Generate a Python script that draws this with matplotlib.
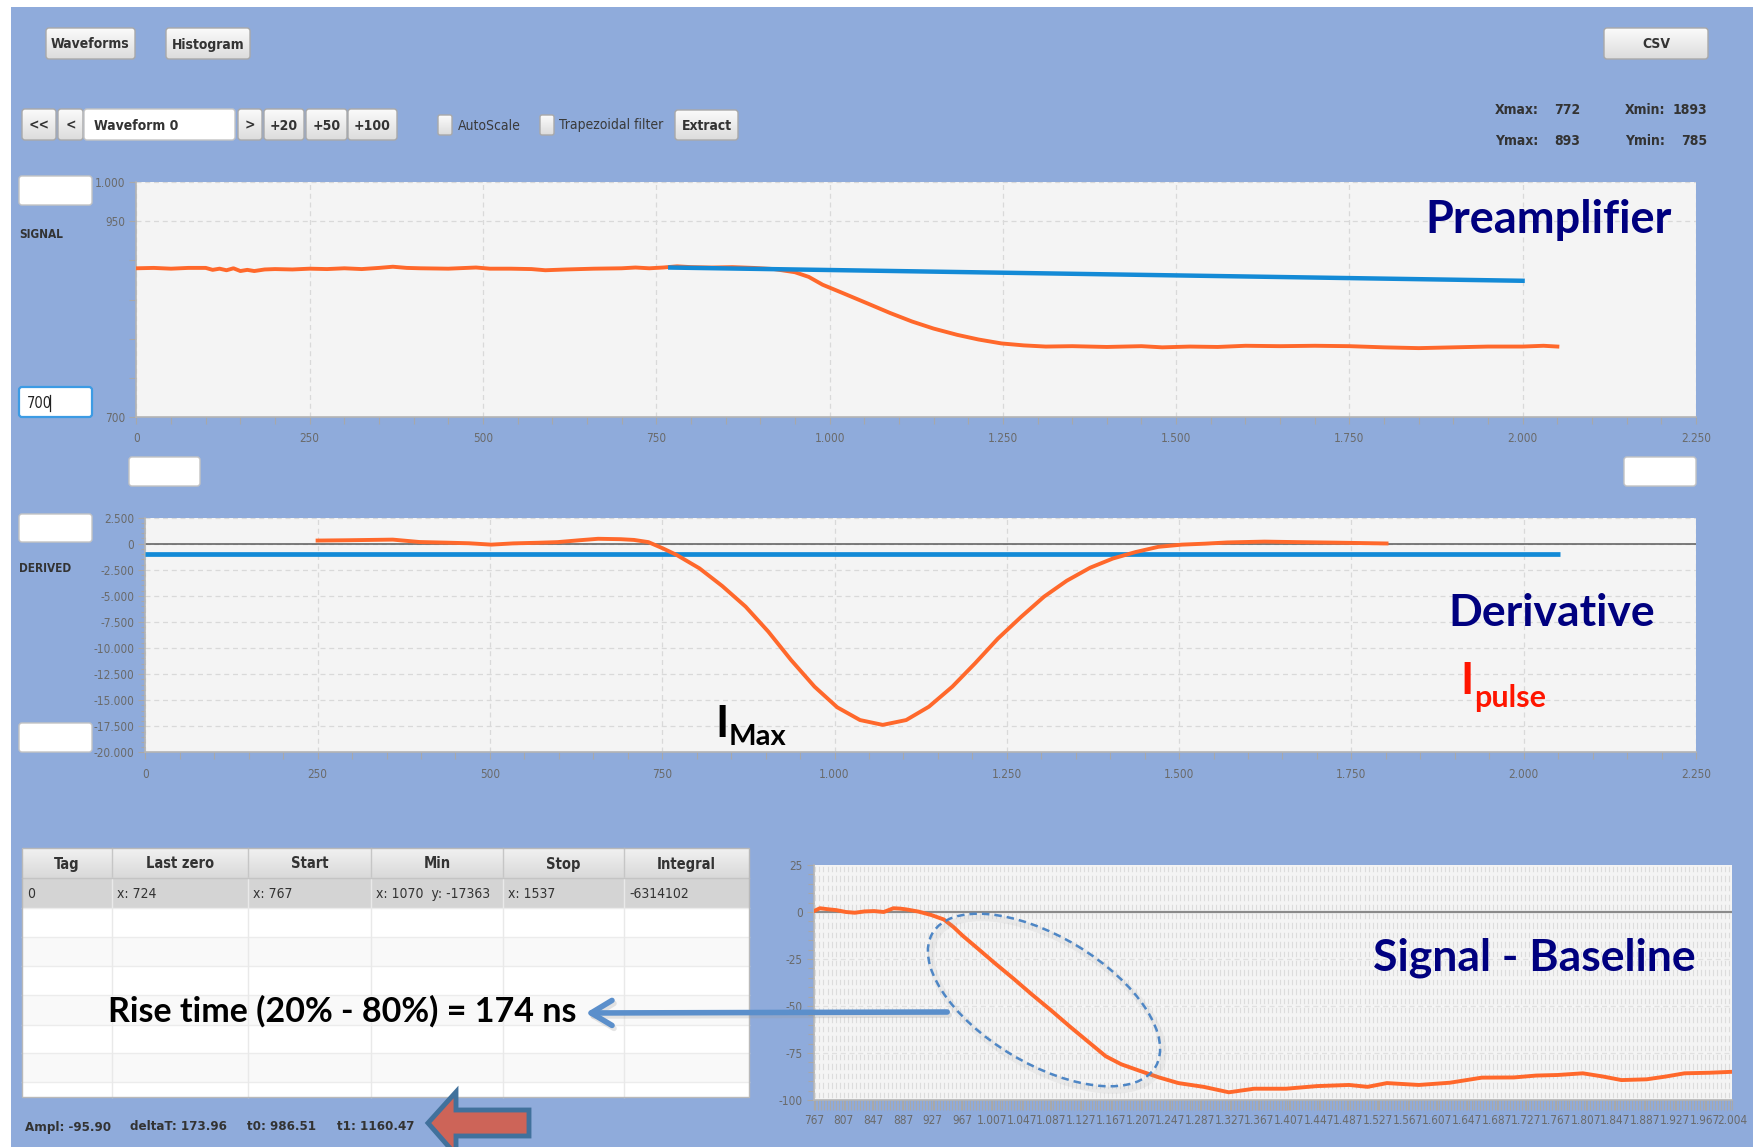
import numpy as np
import matplotlib
matplotlib.use("Agg")
import matplotlib.pyplot as plt
from matplotlib.patches import FancyBboxPatch, Rectangle, Ellipse, Polygon, FancyArrowPatch
from matplotlib.colors import LinearSegmentedColormap
from matplotlib.ticker import FixedLocator, MultipleLocator, FuncFormatter

W, H = 1753, 1147

# ---------------------------------------------------------------- data
# Preamplifier output (sample, ADC counts)
signal_x = [0, 25, 50, 75, 100, 110, 120, 130, 140, 150, 160, 170, 185, 200, 225,
            250, 275, 300, 325, 350, 370, 390, 410, 450, 490, 510, 540, 570, 590,
            620, 660, 700, 720, 740, 760, 780, 800, 830, 860, 890, 920, 950, 970,
            990, 1020, 1055, 1087, 1119, 1150, 1184, 1215, 1248, 1280, 1312, 1350,
            1400, 1450, 1480, 1520, 1560, 1600, 1650, 1700, 1750, 1800, 1850, 1900,
            1950, 2000, 2030, 2050]
signal_y = [890, 890.5, 889.5, 890.5, 890.5, 888, 889.5, 887.5, 890, 886.5, 888,
            886.5, 888.5, 889, 888.5, 889.5, 889, 890, 889, 890.5, 892, 890.5, 890,
            889.5, 891, 889.5, 889.5, 889, 887.5, 888.5, 889.5, 890, 891, 890, 891,
            892.5, 891.5, 891, 891.5, 890.5, 889, 885, 879, 869, 858, 845, 833, 822,
            813, 805, 799, 794, 791.5, 790, 790.5, 789.5, 790.5, 789, 790, 789.5,
            791, 790.5, 791, 790.5, 789, 788, 789, 790, 790, 791, 790]
# Baseline fit
fit_x = [767, 2003]
fit_y = [891, 874]

# Derivative (current pulse)
deriv_x = [250, 294, 359, 398, 437, 470, 502, 534, 570, 598, 630, 657, 690, 709,
           730, 751, 771, 804, 837, 871, 904, 937, 971, 1004, 1037, 1070, 1104,
           1137, 1171, 1204, 1237, 1271, 1304, 1337, 1371, 1404, 1437, 1470, 1504,
           1537, 1570, 1624, 1672, 1728, 1801]
deriv_y = [300, 330, 390, 160, 100, 40, -90, 30, 90, 150, 330, 470, 430, 360,
           150, -450, -1080, -2360, -4050, -6030, -8430, -11150, -13700, -15680,
           -16900, -17363, -16900, -15620, -13700, -11460, -9100, -7000, -5080,
           -3550, -2300, -1420, -800, -300, -90, 0, 120, 200, 150, 100, 20]
threshold_x = [0, 2052]
threshold_y = [-950, -950]

# Signal minus baseline
sb_x = [767, 775, 785, 797, 810, 822, 835, 848, 861, 874, 883, 891, 908, 925, 942,
        955, 967, 987, 1010, 1036, 1061, 1087, 1112, 1138, 1160, 1181, 1206, 1232,
        1258, 1292, 1326, 1360, 1403, 1445, 1488, 1513, 1539, 1582, 1624, 1667,
        1710, 1740, 1769, 1803, 1830, 1855, 1889, 1915, 1940, 1974, 2004]
sb_y = [0.5, 2, 1.5, 1, 0, -0.4, 0.3, 0.5, 0, 2, 1.8, 1.4, 0.2, -1.6, -4, -8,
        -12.5, -19.2, -27, -35.5, -44, -52.5, -61, -69.5, -76.7, -81, -84.5, -88, -91,
        -93, -95.9, -94, -94, -92.6, -92, -93, -91, -92, -90.8, -88.1, -88, -87,
        -86.7, -85.8, -87.5, -89.4, -89, -87.5, -85.8, -85.5, -85]

table_header = ["Tag", "Last zero", "Start", "Min", "Stop", "Integral"]
table_row0 = ["0", "x: 724", "x: 767", "x: 1070  y: -17363", "x: 1537", "-6314102"]
status_items = ["Ampl: -95.90", "deltaT: 173.96", "t0: 986.51", "t1: 1160.47"]
extrema_rows = [("Xmax:", "772", "Xmin:", "1893"), ("Ymax:", "893", "Ymin:", "785")]

# ---------------------------------------------------------------- style
BG = "#8FABDB"
PLOT_BG = "#F4F4F4"
ORANGE = "#FF682B"
BLUE = "#138AD6"
NAVY = "#00007F"
TXT = "#333333"

plt.rcParams["font.family"] = ["DejaVu Sans"]
plt.rcParams["font.stretch"] = "condensed"
CAL = dict(family=["Lato", "DejaVu Sans"], fontweight="bold", fontstretch="normal")

fig = plt.figure(figsize=(W / 100, H / 100), dpi=100, facecolor="white")
base = fig.add_axes([0, 0, 1, 1])
base.set_xlim(0, W)
base.set_ylim(H, 0)
base.set_autoscale_on(False)
base.axis("off")
base.add_patch(Rectangle((11, 7), W - 11, H - 7, facecolor=BG, edgecolor="none", zorder=0))


def frac(x0, y0, x1, y1):
    return [x0 / W, 1 - y1 / H, (x1 - x0) / W, (y1 - y0) / H]


grad = np.linspace(0, 1, 32).reshape(-1, 1)
btn_cmap = LinearSegmentedColormap.from_list("btn", ["#fbfbfb", "#dcdcdc"])


def button(x0, y0, x1, y1, label=None, fs=10, weight="bold", r=3):
    patch = FancyBboxPatch((x0, y0), x1 - x0, y1 - y0,
                           boxstyle=f"round,pad=0,rounding_size={r}",
                           facecolor="none", edgecolor="#a9a9a9", lw=1, zorder=3)
    base.add_patch(patch)
    im = base.imshow(grad, cmap=btn_cmap, extent=(x0, x1, y1, y0),
                     aspect="auto", zorder=2, interpolation="bilinear")
    im.set_clip_path(patch)
    if label:
        base.text((x0 + x1) / 2, (y0 + y1) / 2 + 1, label, ha="center", va="center",
                  fontsize=fs, fontweight=weight, color=TXT, zorder=4)


def entry(x0, y0, x1, y1, edge="#c4c4c4", lw=1):
    base.add_patch(FancyBboxPatch((x0, y0), x1 - x0, y1 - y0,
                                  boxstyle="round,pad=0,rounding_size=3",
                                  facecolor="white", edgecolor=edge, lw=lw, zorder=3))


# top buttons
button(46, 28, 135, 59, "Waveforms")
button(166, 28, 250, 59, "Histogram")
button(1604, 28, 1708, 59, "CSV")

# navigation row
button(22, 109, 56, 140, "<<")
button(58, 109, 83, 140, "<")
entry(84, 109, 235, 140)
base.text(94, 125.5, "Waveform 0", ha="left", va="center", fontsize=10,
          fontweight="bold", color=TXT, zorder=4)
button(238, 109, 262, 140, ">")
button(264, 109, 304, 140, "+20")
button(306, 109, 347, 140, "+50")
button(348, 109, 397, 140, "+100")
button(438, 115, 452, 135, r=2)
base.text(458, 125.5, "AutoScale", ha="left", va="center", fontsize=10, color="#3a3a3a")
button(540, 115, 554, 135, r=2)
base.text(559, 125.5, "Trapezoidal filter", ha="left", va="center", fontsize=10, color="#3a3a3a")
button(675, 110, 738, 140, "Extract")

# extrema readout
for (k1, v1, k2, v2), yy in zip(extrema_rows, [110, 141]):
    base.text(1495, yy, k1, ha="left", va="center", fontsize=10, fontweight="bold", color=TXT)
    base.text(1580, yy, v1, ha="right", va="center", fontsize=10, fontweight="bold", color=TXT)
    base.text(1625, yy, k2, ha="left", va="center", fontsize=10, fontweight="bold", color=TXT)
    base.text(1707, yy, v2, ha="right", va="center", fontsize=10, fontweight="bold", color=TXT)

# range entry boxes
entry(19, 176, 92, 205)
entry(19, 387, 92, 417, edge="#3C9BE4", lw=1.6)
base.text(27, 403, "700", ha="left", va="center", fontsize=10.5, color="#222222", zorder=5)
base.plot([50, 50], [395, 411], color="#222222", lw=0.9, zorder=5)
entry(129, 457, 200, 486)
entry(1624, 457, 1696, 486)
entry(19, 514, 92, 542)
entry(19, 723, 92, 752)
base.text(19, 234, "SIGNAL", ha="left", va="center", fontsize=8.5, fontweight="bold", color=TXT)
base.text(19, 569, "DERIVED", ha="left", va="center", fontsize=8.5, fontweight="bold", color=TXT)

# ---------------------------------------------------------------- table
col_edges = [22, 112, 248, 371, 503, 624, 749]
row_edges = [848, 878, 908, 937, 966, 995, 1025, 1053, 1082, 1097]
base.add_patch(Rectangle((22, 848), 727, 249, facecolor="white", edgecolor="none", zorder=1))
hdr_cmap = LinearSegmentedColormap.from_list("hdr", ["#f1f1f1", "#d9d9d9"])
im = base.imshow(grad, cmap=hdr_cmap, extent=(22, 749, 878, 848), aspect="auto",
                 zorder=1.5, interpolation="bilinear")
base.add_patch(Rectangle((22, 878), 727, 30, facecolor="#D4D4D4", edgecolor="none", zorder=1.5))
for i in range(2, len(row_edges) - 1):
    if i % 2 == 1:
        base.add_patch(Rectangle((22, row_edges[i]), 727, row_edges[i + 1] - row_edges[i],
                                 facecolor="#F9F9F9", edgecolor="none", zorder=1.5))
for yy in row_edges[2:-1]:
    base.plot([22, 749], [yy, yy], color="#ECECEC", lw=1, zorder=1.8)
for xx in col_edges[1:-1]:
    base.plot([xx, xx], [848, 878], color="#C6C6C6", lw=1, zorder=1.8)
    base.plot([xx, xx], [878, 1097], color="#E9E9E9", lw=1, zorder=1.8)
base.plot([22, 749], [878, 878], color="#C4C4C4", lw=1, zorder=1.8)
base.add_patch(Rectangle((22, 848), 727, 249, facecolor="none", edgecolor="#B9B9B9", lw=1, zorder=2))
for i, name in enumerate(table_header):
    base.text((col_edges[i] + col_edges[i + 1]) / 2, 864, name, ha="center", va="center",
              fontsize=10.5, fontweight="bold", color=TXT, zorder=3)
for i, val in enumerate(table_row0):
    base.text(col_edges[i] + 5, 894, val, ha="left", va="center", fontsize=10,
              color=TXT, zorder=3)

# status line
for xx, s in zip([25, 130, 247, 337], status_items):
    base.text(xx, 1127, s, ha="left", va="center", fontsize=9.5, fontweight="bold", color=TXT)


# ---------------------------------------------------------------- charts
def eu(v, pos=None):
    return f"{int(round(v)):,}".replace(",", ".")


def style(ax):
    ax.set_facecolor(PLOT_BG)
    for s in ("top", "right"):
        ax.spines[s].set_visible(False)
    for s in ("left", "bottom"):
        ax.spines[s].set_color("#B4B4B4")
        ax.spines[s].set_linewidth(1.2)
    ax.tick_params(axis="both", which="both", length=5, width=0.8, color="#A8A8A8",
                   labelsize=8.5, labelcolor="#6A6A6A")
    ax.tick_params(axis="x", which="both", pad=6)
    ax.tick_params(axis="y", which="both", pad=3)


GRID = dict(linestyle=(0, (4, 3)), color="#D9D9D9", linewidth=0.9)

# preamplifier
ax1 = fig.add_axes(frac(136.4, 182.2, 1696, 417))
style(ax1)
ax1.set_xlim(0, 2250)
ax1.set_ylim(700, 1000)
ax1.xaxis.set_major_locator(MultipleLocator(250))
ax1.xaxis.set_minor_locator(MultipleLocator(50))
ax1.yaxis.set_major_locator(FixedLocator([700, 950, 1000]))
ax1.yaxis.set_minor_locator(FixedLocator([750, 800, 850, 900]))
ax1.xaxis.set_major_formatter(FuncFormatter(eu))
ax1.yaxis.set_major_formatter(FuncFormatter(eu))
ax1.grid(True, which="major", **GRID)
ax1.set_axisbelow(True)
ax1.plot(signal_x, signal_y, color=ORANGE, lw=2.8, solid_joinstyle="round", zorder=3)
ax1.plot(fit_x, fit_y, color=BLUE, lw=3.2, solid_capstyle="butt", zorder=4)

# derivative
ax2 = fig.add_axes(frac(145.3, 517.6, 1696, 752.4))
style(ax2)
ax2.set_xlim(0, 2250)
ax2.set_ylim(-20000, 2500)
ax2.xaxis.set_major_locator(MultipleLocator(250))
ax2.xaxis.set_minor_locator(MultipleLocator(50))
ax2.yaxis.set_major_locator(MultipleLocator(2500))
ax2.yaxis.set_minor_locator(MultipleLocator(500))
ax2.xaxis.set_major_formatter(FuncFormatter(eu))
ax2.yaxis.set_major_formatter(FuncFormatter(eu))
ax2.tick_params(axis="y", which="minor", length=3)
ax2.grid(True, which="major", **GRID)
ax2.set_axisbelow(True)
ax2.axhline(0, color="#5A5A5A", lw=1.1, zorder=2)
ax2.plot(threshold_x, threshold_y, color=BLUE, lw=3.4, solid_capstyle="butt", zorder=3)
ax2.plot(deriv_x, deriv_y, color=ORANGE, lw=2.8, solid_joinstyle="round", zorder=4)

# signal - baseline
ax3 = fig.add_axes(frac(814, 865, 1732, 1100))
style(ax3)
ax3.set_xlim(767, 2004)
ax3.set_ylim(-100, 25)
ax3.xaxis.set_major_locator(FixedLocator(list(range(767, 2004, 40)) + [2004]))
ax3.xaxis.set_minor_locator(FixedLocator(list(np.arange(769, 2004, 4))))
ax3.yaxis.set_major_locator(MultipleLocator(25))
ax3.yaxis.set_minor_locator(MultipleLocator(5))
ax3.xaxis.set_major_formatter(FuncFormatter(eu))
ax3.yaxis.set_major_formatter(FuncFormatter(eu))
ax3.tick_params(axis="x", which="both", length=7, labelsize=8.5, pad=3)
ax3.tick_params(axis="y", which="minor", length=4)
ax3.vlines(np.arange(769, 2004, 5.4), -100, 25, color="#DCDCDC", lw=0.8, zorder=0.5)
ax3.hlines(np.arange(-100, 26, 5), 767, 2004, color=PLOT_BG, lw=2.6, zorder=0.6)
ax3.hlines([-75, -50, -25], 767, 2004, color="#E0E0E0", lw=0.9, linestyles=(0, (4, 3)), zorder=0.7)
ax3.axhline(0, color="#8A8A8A", lw=1.6, zorder=1)
ax3.plot(sb_x, sb_y, color=ORANGE, lw=2.8, solid_joinstyle="round", zorder=3)

# ---------------------------------------------------------------- annotations
ov = fig.add_axes([0, 0, 1, 1])
ov.set_xlim(0, W)
ov.set_ylim(H, 0)
ov.set_autoscale_on(False)
ov.axis("off")
ov.patch.set_alpha(0)

ov.text(1425, 233, "Preamplifier", fontsize=32.5, color=NAVY, va="baseline", ha="left", **CAL)
ov.text(1448, 626, "Derivative", fontsize=32, color=NAVY, va="baseline", ha="left", **CAL)
ov.text(1460, 694, "I", fontsize=32, color="#FF1500", va="baseline", ha="left", **CAL)
ov.text(1474, 707, "pulse", fontsize=22, color="#FF1500", va="baseline", ha="left", **CAL)
ov.text(715, 737, "I", fontsize=32, color="black", va="baseline", ha="left", **CAL)
ov.text(729, 745, "Max", fontsize=21, color="black", va="baseline", ha="left", **CAL)
ov.text(1373, 970, "Signal - Baseline", fontsize=32, color=NAVY, va="baseline", ha="left", **CAL)
ov.text(108, 1022, "Rise time (20% - 80%) = 174 ns", fontsize=24.5, color="black",
        va="baseline", ha="left", **CAL)

# dashed ellipse around the rising edge
ov.add_patch(Ellipse((1047, 1004), 260, 127, angle=31, fill=False, edgecolor="#9A9A9A",
                     lw=5, alpha=0.12))
ov.add_patch(Ellipse((1044, 1000), 260, 127, angle=31, fill=False, edgecolor="#4E86C5",
                     lw=1.8, linestyle=(0, (3, 2))))

# pointer arrow
ov.add_patch(FancyArrowPatch((952, 1015), (585, 1016), arrowstyle="->,head_length=0.75,head_width=0.45",
                             mutation_scale=20, color="#9A9A9A", lw=4, alpha=0.25,
                             capstyle="round", joinstyle="round"))
ov.add_patch(FancyArrowPatch((950, 1012), (583, 1013), arrowstyle="->,head_length=0.75,head_width=0.45",
                             mutation_scale=20, color="#5B8FCB", lw=4,
                             capstyle="round", joinstyle="round"))

# block arrow next to the status line
ov.add_patch(Polygon([(428, 1123), (456, 1092), (456, 1110), (529, 1110), (529, 1136),
                      (456, 1136), (456, 1155)], closed=True, facecolor="#CD6458",
                     edgecolor="#41719C", lw=3.5, joinstyle="miter"))

fig.savefig("out.png", dpi=100, facecolor="white")
